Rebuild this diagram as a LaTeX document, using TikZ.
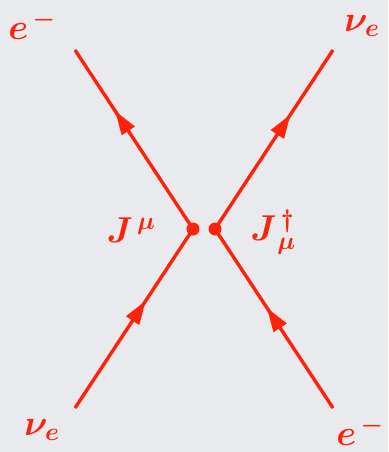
\RequirePackage{fix-cm}
\documentclass[tikz,border=0pt]{standalone}
\usepackage{bm}
\usetikzlibrary{arrows.meta,decorations.markings}
\definecolor{fline}{RGB}{255,34,10}
\definecolor{paper}{RGB}{233,234,238}

\begin{document}
\begin{tikzpicture}[x=1pt,y=-1pt,>=Latex,
 fl/.style={draw=fline,color=fline,line width=3.4pt,postaction={decorate},
  decoration={markings,mark=at position #1 with {\arrow{Triangle[length=24pt,width=15pt]}}}},
 vx/.style={circle,fill=fline,inner sep=0pt,minimum size=13pt},
 lb/.style={text=fline,font=\fontsize{36}{42}\selectfont,inner sep=0pt}]
 \fill[paper] (0,0) rectangle (388,452);
 \useasboundingbox (0,0) rectangle (388,452);
 % vertices and line ends
 \node[vx](vl) at (193,229){};
 \node[vx](vr) at (215,229){};
 \coordinate (tl) at (75,50);
 \coordinate (tr) at (333,50);
 \coordinate (bl) at (75,408);
 \coordinate (br) at (333,408);
 % fermion lines
 \draw[fl=0.6] (bl) -- (vl.center);
 \draw[fl=0.66] (vl.center) -- (tl);
 \draw[fl=0.64] (vr.center) -- (tr);
 \draw[fl=0.56] (br) -- (vr.center);
 % labels
 \node[lb](etl) at (32,25){$\bm{e}^{\,\bm{-}}$};
 \node[lb](ntr) at (362,26){$\bm{\nu}_{\bm{e}}$};
 \node[lb](jl) at (131,230){$\bm{J}^{\,\bm{\mu}}$};
 \node[lb](jr) at (273,232){$\bm{J}^{\,\bm{\dagger}}_{\,\bm{\mu}}$};
 \node[lb](nbl) at (42,430){$\bm{\nu}_{\bm{e}}$};
 \node[lb](ebr) at (360,431){$\bm{e}^{\,\bm{-}}$};
\end{tikzpicture}
\end{document}
